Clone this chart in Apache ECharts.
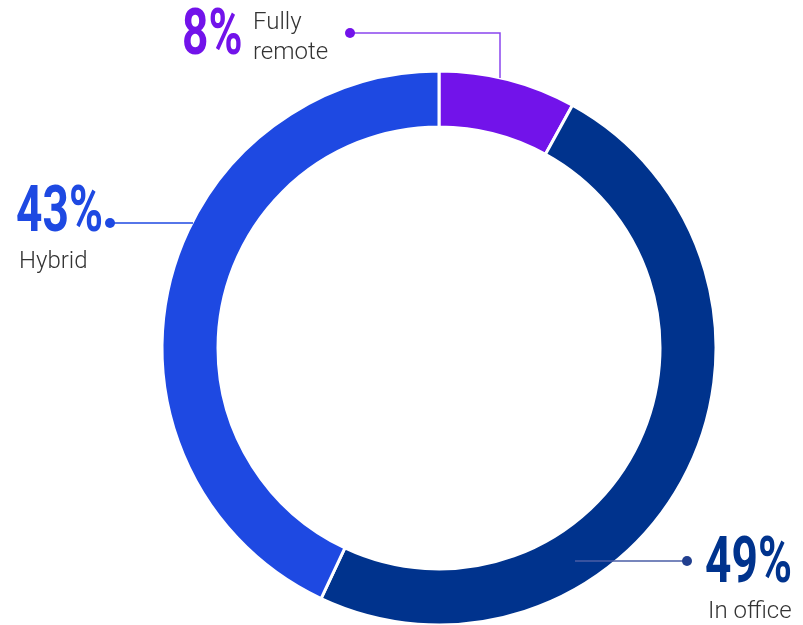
<!DOCTYPE html>
<html>
<head>
<meta charset="utf-8">
<script src="https://cdn.jsdelivr.net/npm/echarts@6/dist/echarts.min.js"></script>
<style>
  html, body { margin: 0; padding: 0; background: #fff; }
  #chart { width: 803px; height: 625px; }
</style>
</head>
<body>
<div id="chart"></div>
<script>
// work arrangement split
const categories = ['Fully remote', 'In office', 'Hybrid'];
const values = [8, 49, 43];
const colors = ['#7213EA', '#00338D', '#1E49E2'];

const chart = echarts.init(document.getElementById('chart'));

const numFont = 'bold 64px Roboto';
const txtFont = '300 24px Roboto';
const txtColor = '#333333';

// big condensed percentage text
const pct = (i, x, y) => ({
  type: 'text',
  x: x,
  y: y,
  scaleX: 0.72,
  z: 10,
  style: {
    text: values[i] + '%',
    x: 0,
    y: 0,
    font: numFont,
    fill: colors[i],
    textVerticalAlign: 'bottom'
  }
});
const lbl = (text, x, y) => ({
  type: 'text',
  x: x,
  y: y,
  z: 10,
  style: {
    text: text,
    x: 0,
    y: 0,
    font: txtFont,
    fill: txtColor,
    textVerticalAlign: 'bottom'
  }
});
const leader = (points, color) => ({
  type: 'polyline',
  z: 10,
  shape: {points: points},
  style: {stroke: color, lineWidth: 1.5, fill: null}
});
const dot = (x, y, color) => ({
  type: 'circle',
  z: 11,
  shape: {cx: x, cy: y, r: 5},
  style: {fill: color}
});

chart.setOption({
  animation: false,
  series: [
    {
      type: 'pie',
      center: [439, 348],
      radius: [221, 277],
      startAngle: 90,
      clockwise: true,
      label: {show: false},
      labelLine: {show: false},
      itemStyle: {borderColor: '#fff', borderWidth: 3},
      emphasis: {disabled: true},
      data: categories.map((name, i) => ({
        name: name,
        value: values[i],
        itemStyle: {color: colors[i]}
      }))
    }
  ],
  graphic: [
    leader([[350, 33], [500, 33], [500, 78]], '#8a45ee'),
    dot(350, 33, colors[0]),
    pct(0, 182, 70),
    lbl('Fully', 253, 35),
    lbl('remote', 253, 65),

    leader([[110, 223], [193, 223]], colors[2]),
    dot(110, 223, colors[2]),
    pct(2, 16, 247),
    lbl('Hybrid', 19, 274),

    leader([[575, 561], [687, 561]], '#4a5ea6'),
    dot(687, 561, '#213f8f'),
    pct(1, 705, 598),
    lbl('In office', 708, 624)
  ]
});
</script>
</body>
</html>
